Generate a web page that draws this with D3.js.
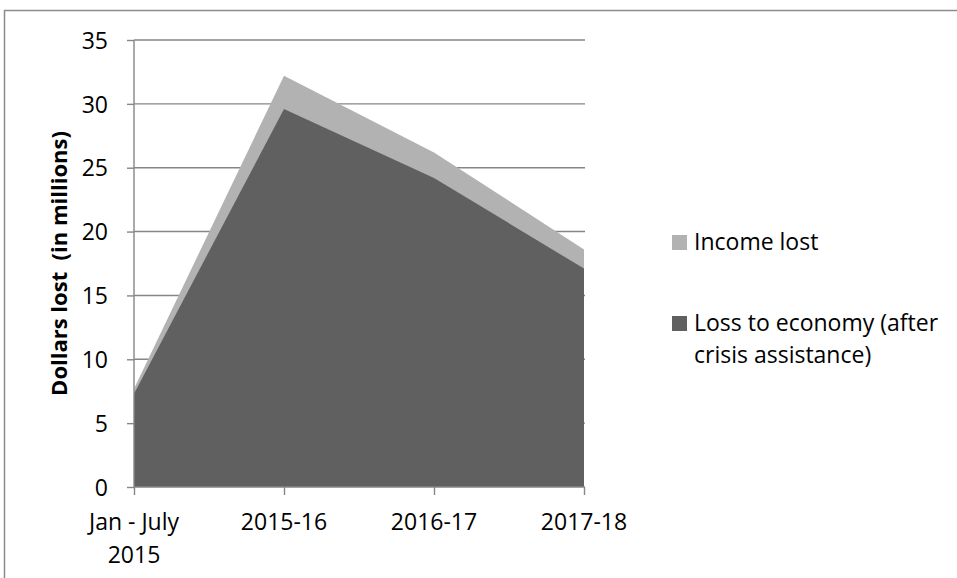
<!DOCTYPE html>
<html>
<head>
<meta charset="utf-8">
<script src="https://cdn.jsdelivr.net/npm/d3@7"></script>
<style>
  html, body { margin: 0; padding: 0; background: #fff; }
  svg { display: block; }
  text { font-family: "Open Sans", sans-serif; fill: #000; }
</style>
</head>
<body>
<svg id="chart" width="957" height="578"></svg>
<script>
// ---- data ----
const categories = ["Jan - July 2015", "2015-16", "2016-17", "2017-18"];
const incomeLost = [7.7, 32.2, 26.2, 18.6];
const lossToEconomy = [7.3, 29.6, 24.2, 17.1];
const yTicks = [0, 5, 10, 15, 20, 25, 30, 35];
const seriesNames = ["Income lost", "Loss to economy (after crisis assistance)"];
const seriesColors = ["#b2b2b2", "#606060"];

const svg = d3.select("#chart");
const gridColor = "#868686";

// outer frame
svg.append("rect")
  .attr("x", 4.5).attr("y", 10.5)
  .attr("width", 1000).attr("height", 1000)
  .attr("fill", "none").attr("stroke", "#8c8c8c").attr("stroke-width", 1.5);

const x = d3.scalePoint().domain(categories).range([134, 584]);
const y = d3.scaleLinear().domain([0, 35]).range([487, 40]);

// gridlines
svg.append("g").selectAll("line")
  .data(yTicks.filter(t => t > 0))
  .join("line")
  .attr("x1", 134).attr("x2", 585)
  .attr("y1", d => y(d)).attr("y2", d => y(d))
  .attr("stroke", gridColor).attr("stroke-width", 1.4);

// areas
const series = [incomeLost, lossToEconomy];
series.forEach((vals, i) => {
  const area = d3.area()
    .x((d, j) => x(categories[j]))
    .y0(y(0))
    .y1(d => y(d));
  svg.append("path")
    .datum(vals)
    .attr("d", area)
    .attr("fill", seriesColors[i]);
});

// y axis
const yAxis = svg.append("g")
  .attr("transform", "translate(134,0)")
  .call(d3.axisLeft(y).tickValues(yTicks).tickSize(7).tickPadding(18).tickFormat(d3.format("d")));
yAxis.select(".domain").attr("stroke", gridColor).attr("stroke-width", 1.4).attr("d", `M0,${y(35)}V${y(0)}`);
yAxis.selectAll(".tick line").attr("stroke", gridColor).attr("stroke-width", 1.4);
yAxis.selectAll(".tick text")
  .attr("font-family", "Open Sans, sans-serif").attr("font-size", 23).attr("fill", "#000")
  .attr("x", -26).attr("dy", "0.36em");

// x axis
const xAxis = svg.append("g")
  .attr("transform", `translate(0,${y(0)})`)
  .call(d3.axisBottom(x).tickSize(8).tickFormat(""));
xAxis.select(".domain").attr("stroke", gridColor).attr("stroke-width", 1.4).attr("d", "M134,0H585");
xAxis.selectAll(".tick line").attr("stroke", gridColor).attr("stroke-width", 1.4);

// x labels (wrapped)
const xl = svg.append("g");
categories.forEach(c => {
  const t = xl.append("text")
    .attr("x", x(c)).attr("text-anchor", "middle")
    .attr("font-size", 23);
  let lines = [c];
  t.text(c);
  if (t.node().getComputedTextLength() > 140) {
    const k = c.lastIndexOf(" ");
    lines = [c.slice(0, k), c.slice(k + 1)];
  }
  t.text(null);
  lines.forEach((ln, i) => {
    t.append("tspan").attr("x", x(c)).attr("y", 530 + i * 32.5).text(ln);
  });
});

// y axis title
svg.append("text")
  .attr("transform", `translate(67,${(y(0) + y(35)) / 2}) rotate(-90)`)
  .attr("text-anchor", "middle")
  .attr("font-size", 22).attr("font-weight", "bold")
  .attr("xml:space", "preserve")
  .style("white-space", "pre")
  .text("Dollars lost  (in millions)");

// legend
const legendItems = [
  { name: seriesNames[0], color: seriesColors[0], lines: ["Income lost"], y: 250 },
  { name: seriesNames[1], color: seriesColors[1], lines: ["Loss to economy (after", "crisis assistance)"], y: 331 }
];
const lg = svg.append("g");
legendItems.forEach(it => {
  lg.append("rect")
    .attr("x", 672).attr("y", it.y - 15)
    .attr("width", 15).attr("height", 15)
    .attr("fill", it.color);
  const t = lg.append("text").attr("font-size", 23);
  it.lines.forEach((ln, i) => {
    t.append("tspan").attr("x", 694).attr("y", it.y + i * 32).text(ln);
  });
});
</script>
</body>
</html>
